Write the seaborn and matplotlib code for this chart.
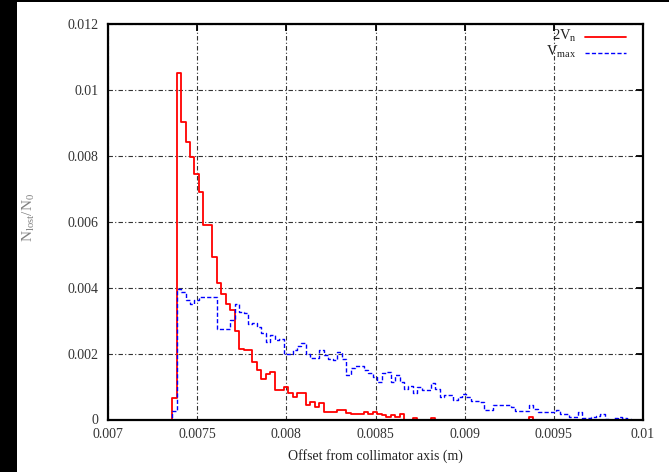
import numpy as np
import pandas as pd
import matplotlib
matplotlib.use("Agg")
import matplotlib.pyplot as plt
import seaborn as sns
from matplotlib.patches import Rectangle

# ---- data ----
bin_start = 0.00736
bin_width = 0.000025

v_2vn = [0.00065, 0.0105, 0.00904, 0.00842, 0.00795, 0.00745, 0.00689, 0.0059, 0.0059, 0.00494,
         0.00415, 0.00382, 0.00349, 0.00332, 0.00268, 0.00214, 0.00212, 0.0021, 0.00173, 0.0015,
         0.00122, 0.00137, 0.00144, 0.0009, 0.00089, 0.00099, 0.00079, 0.00067, 0.00079, 0.00079,
         0.00044, 0.00054, 0.00039, 0.00049, 0.00024, 0.00024, 0.00024, 0.00029, 0.00029, 0.00021,
         0.00017, 0.00017, 0.00017, 0.00024, 0.00017, 0.00024, 0.00017, 0.00014, 0.00009, 0.00014,
         0.00009, 0.00017, 0.0, 0.0, 0.00005, 0.0, 0.0, 0.0, 0.00005, 0.0,
         0.0, 0.0, 0.0, 0.0, 0.0, 0.0, 0.0, 0.0, 0.0, 0.0,
         0.0, 0.0, 0.0, 0.0, 0.0, 0.0, 0.0, 0.0, 0.0, 0.0,
         0.00008]

v_vmax = [0.00026, 0.00395, 0.00387, 0.00364, 0.00349, 0.00362, 0.00372, 0.00372, 0.00372, 0.00372,
          0.00274, 0.00274, 0.00274, 0.00302, 0.00349, 0.00327, 0.00323, 0.00289, 0.00293, 0.00282,
          0.00261, 0.00236, 0.00256, 0.00241, 0.00243, 0.00200, 0.00200, 0.00210, 0.00224, 0.00231,
          0.00200, 0.00188, 0.00188, 0.00210, 0.00195, 0.00185, 0.00180, 0.00205, 0.00185, 0.00135,
          0.00155, 0.00162, 0.00162, 0.00150, 0.00140, 0.00130, 0.00115, 0.00140, 0.00145, 0.00115,
          0.00135, 0.00115, 0.00094, 0.00101, 0.00081, 0.00098, 0.00089, 0.00089, 0.00112, 0.00094,
          0.00069, 0.00074, 0.00074, 0.00059, 0.00067, 0.00078, 0.00067, 0.00057, 0.00057, 0.00054,
          0.00029, 0.00029, 0.00045, 0.00045, 0.00045, 0.00045, 0.00037, 0.00027, 0.00027, 0.00027,
          0.00045, 0.00032, 0.00022, 0.00022, 0.00024, 0.00024, 0.00029, 0.00017, 0.00017, 0.00009,
          0.00009, 0.00024, 0.00004, 0.00004, 0.00009, 0.00012, 0.00017, 0.00002, 0.0, 0.00004,
          0.00009, 0.00004, 0.00002]

series_names = ["2V$_\\mathrm{n}$", "V$_\\mathrm{max}$"]

x_ticks = [0.007, 0.0075, 0.008, 0.0085, 0.009, 0.0095, 0.01]
x_ticklabels = ["0.007", "0.0075", "0.008", "0.0085", "0.009", "0.0095", "0.01"]
y_ticks = [0.0, 0.002, 0.004, 0.006, 0.008, 0.01, 0.012]
y_ticklabels = ["0", "0.002", "0.004", "0.006", "0.008", "0.01", "0.012"]

x_label = "Offset from collimator axis (m)"
y_label = "N$_\\mathrm{lost}$/N$_0$"

# ---- style ----
sns.set_theme(style="white")
plt.rcParams["font.family"] = ["Liberation Serif", "DejaVu Serif"]
plt.rcParams["mathtext.fontset"] = "custom"
plt.rcParams["mathtext.rm"] = "Liberation Serif"
plt.rcParams["mathtext.it"] = "Liberation Serif:italic"
plt.rcParams["mathtext.bf"] = "Liberation Serif:bold"

W, H = 669, 472
fig = plt.figure(figsize=(W / 100, H / 100), dpi=100)
fig.patch.set_facecolor("white")
L, R, T, B = 108, 643, 24, 419.5
ax = fig.add_axes([L / W, 1 - B / H, (R - L) / W, (B - T) / H])


def series_frame(vals):
    vals = [0.0] + list(vals) + [0.0]
    k = np.arange(len(vals)) - 1
    centers = bin_start + (k + 0.5) * bin_width
    lo = bin_start - bin_width
    hi = lo + len(vals) * bin_width
    return pd.DataFrame({"x": centers, "w": vals}), (lo, hi)


df_r, rng_r = series_frame(v_2vn)
df_b, rng_b = series_frame(v_vmax)

sns.histplot(data=df_r, x="x", weights="w", binwidth=bin_width, binrange=rng_r,
             element="step", fill=False, color="#ff0000", linewidth=1.3, ax=ax, zorder=3)
sns.histplot(data=df_b, x="x", weights="w", binwidth=bin_width, binrange=rng_b,
             element="step", fill=False, color="#0000ff", linewidth=1.0,
             linestyle=(0, (3, 1.6)), ax=ax, zorder=3)

ax.set_xlim(0.007, 0.01)
ax.set_ylim(0, 0.012)
ax.set_xticks(x_ticks)
ax.set_xticklabels(x_ticklabels)
ax.set_yticks(y_ticks)
ax.set_yticklabels(y_ticklabels)

ax.grid(True, color="#333333", linestyle=(0, (4, 2, 1, 2)), linewidth=0.8)
ax.set_axisbelow(True)

for s in ax.spines.values():
    s.set_color("black")
    s.set_linewidth(1.6)
    s.set_zorder(5)

ax.tick_params(axis="both", direction="in", length=5, width=1.3, color="black",
               top=True, right=True, labelsize=10, labelcolor="#333333")
ax.tick_params(axis="x", pad=6)
ax.tick_params(axis="y", pad=7)


def ax_x(px):
    return (px - L) / (R - L)


def ax_y(py):
    return (B - py) / (B - T)


ax.set_xlabel(x_label, fontsize=10, color="#222222")
ax.xaxis.set_label_coords(0.5, (B - 449) / (B - T))
ax.set_ylabel(y_label, fontsize=11, color="#808080")
ax.yaxis.set_label_coords(ax_x(29), ax_y(217))
ax.yaxis.label.set_verticalalignment("center")

# legend (gnuplot style: text right-aligned, sample line to its right)
ax.text(ax_x(576.5), ax_y(39.5), series_names[0], ha="right", va="baseline",
        fontsize=10.5, color="#222222", transform=ax.transAxes)
ax.text(ax_x(576.5), ax_y(55.5), series_names[1], ha="right", va="baseline",
        fontsize=10.5, color="#222222", transform=ax.transAxes)
ax.plot([ax_x(585), ax_x(626)], [ax_y(37.3)] * 2, color="#ff0000", lw=1.3,
        transform=ax.transAxes)
ax.plot([ax_x(585), ax_x(626)], [ax_y(52.8)] * 2, color="#0000ff", lw=1.0,
        linestyle=(0, (3, 1.6)), transform=ax.transAxes)

# black frame strips of the screenshot
fig.add_artist(Rectangle((0, 0), 17 / W, 1, transform=fig.transFigure,
                         facecolor="black", edgecolor="none"))
fig.add_artist(Rectangle((0, 1 - 2 / H), 1, 2 / H, transform=fig.transFigure,
                         facecolor="black", edgecolor="none"))

fig.savefig("out.png", dpi=100)
